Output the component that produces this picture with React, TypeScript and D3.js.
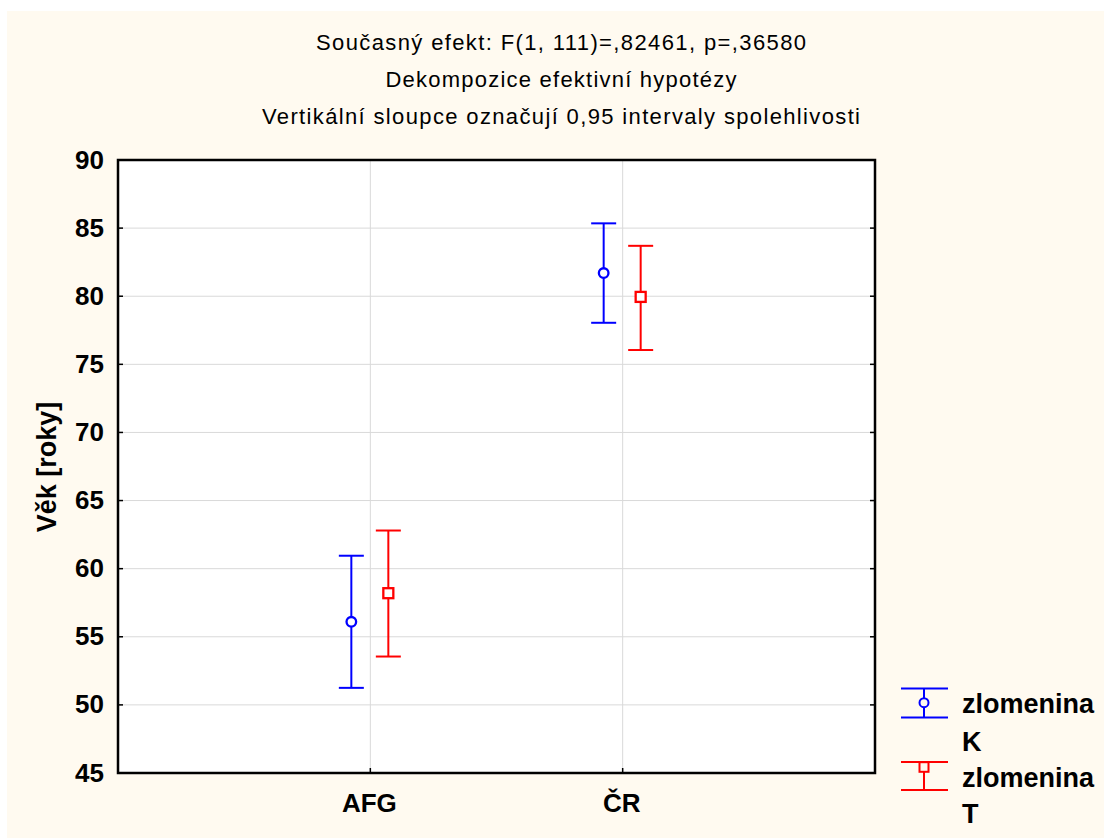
import React from "react";
import * as d3 from "d3";

const categories = ["AFG", "ČR"];
const seriesNames = ["zlomenina K", "zlomenina T"];
const meansK = [56.1, 81.7];
const lowerK = [51.25, 78.05];
const upperK = [60.95, 85.35];
const meansT = [58.2, 79.95];
const lowerT = [53.55, 76.05];
const upperT = [62.8, 83.7];
const yTicks = [45, 50, 55, 60, 65, 70, 75, 80, 85, 90];
const titleLines = [
  "Současný efekt: F(1, 111)=,82461, p=,36580",
  "Dekompozice efektivní hypotézy",
  "Vertikální sloupce označují 0,95 intervaly spolehlivosti",
];
const titleWidths = [490, 351, 598];
const yTitle = "Věk [roky]";

const W = 1104;
const H = 838;
const L = 118, T = 160, R = 875, B = 773;
const FONT = "'Liberation Sans', Arial, sans-serif";

export default function App() {
  const y = d3.scaleLinear().domain([45, 90]).range([B, T]);
  const x = d3.scalePoint<string>().domain(categories).range([L, R]).padding(1);
  const offsets = [-19, 18];
  const colors = ["#0000ff", "#ff0000"];
  const series = [
    { m: meansK, lo: lowerK, hi: upperK },
    { m: meansT, lo: lowerT, hi: upperT },
  ];
  const cap = 12.5;

  return (
    <svg width={W} height={H} style={{ position: "absolute", left: 0, top: 0 }} fontFamily={FONT}>
      <rect x={7} y={11} width={W - 7} height={H - 11} fill="#fffaf0" />
      <rect x={L} y={T} width={R - L} height={B - T} fill="#ffffff" />
      {/* grid */}
      {yTicks.slice(1, -1).map((t) => (
        <line key={"g" + t} x1={L} x2={R} y1={y(t)} y2={y(t)} stroke="#d9d9d9" strokeWidth={1} />
      ))}
      {categories.map((c) => (
        <line key={"gv" + c} x1={x(c)} x2={x(c)} y1={T} y2={B} stroke="#d9d9d9" strokeWidth={1} />
      ))}
      {/* ticks */}
      {yTicks.map((t) => (
        <g key={"t" + t}>
          <line x1={L} x2={L + 5} y1={y(t)} y2={y(t)} stroke="#000" strokeWidth={1.5} />
          <line x1={R - 5} x2={R} y1={y(t)} y2={y(t)} stroke="#000" strokeWidth={1.5} />
          <text x={104} y={y(t) + 8.5} textAnchor="end" fontSize={26} fontWeight="bold" fill="#000">
            {t}
          </text>
        </g>
      ))}
      {categories.map((c) => (
        <g key={"xt" + c}>
          <line x1={x(c)} x2={x(c)} y1={B - 5} y2={B} stroke="#000" strokeWidth={1.5} />
          <text x={(x(c) as number) - 1} y={812} textAnchor="middle" fontSize={26} fontWeight="bold" fill="#000">
            {c}
          </text>
        </g>
      ))}
      <rect x={L} y={T} width={R - L} height={B - T} fill="none" stroke="#000" strokeWidth={2.5} />
      {/* error bars */}
      {series.map((s, si) =>
        categories.map((c, ci) => {
          const cx = (x(c) as number) + offsets[si];
          const col = colors[si];
          return (
            <g key={si + "-" + ci} stroke={col} strokeWidth={2} fill="none">
              <line x1={cx} x2={cx} y1={y(s.hi[ci])} y2={y(s.lo[ci])} />
              <line x1={cx - cap} x2={cx + cap} y1={y(s.hi[ci])} y2={y(s.hi[ci])} />
              <line x1={cx - cap} x2={cx + cap} y1={y(s.lo[ci])} y2={y(s.lo[ci])} />
              {si === 0 ? (
                <circle cx={cx} cy={y(s.m[ci])} r={4.8} fill="#fff" strokeWidth={2.3} />
              ) : (
                <rect x={cx - 5} y={y(s.m[ci]) - 5} width={10} height={10} fill="#fff" strokeWidth={2.3} />
              )}
            </g>
          );
        })
      )}
      {/* title */}
      {titleLines.map((t, i) => (
        <text
          key={"ti" + i}
          x={561}
          y={50 + i * 37}
          textAnchor="middle"
          fontSize={22}
          fill="#000"
          textLength={titleWidths[i]}
          lengthAdjust="spacing"
        >
          {t}
        </text>
      ))}
      <text
        transform={`translate(56, 467) rotate(-90)`}
        textAnchor="middle"
        fontSize={27}
        fontWeight="bold"
        fill="#000"
      >
        {yTitle}
      </text>
      {/* legend */}
      {seriesNames.map((n, i) => {
        const top = i === 0 ? 688.5 : 762;
        const bot = i === 0 ? 717.5 : 790;
        const my = i === 0 ? 702.7 : 767;
        const cx = 924;
        const col = colors[i];
        const parts = n.split(" ");
        return (
          <g key={"lg" + i}>
            <g stroke={col} strokeWidth={2} fill="none">
              <line x1={901} x2={948} y1={top} y2={top} />
              <line x1={901} x2={948} y1={bot} y2={bot} />
              <line x1={cx} x2={cx} y1={top} y2={bot} />
              {i === 0 ? (
                <circle cx={cx} cy={my} r={4.5} fill="#fffaf0" />
              ) : (
                <rect x={cx - 4.5} y={my - 4.8} width={9} height={9.6} fill="#fffaf0" />
              )}
            </g>
            <text x={962} y={i === 0 ? 713 : 787} fontSize={27} fontWeight="bold" fill="#000">
              {parts[0]}
            </text>
            <text x={962} y={i === 0 ? 751 : 823} fontSize={27} fontWeight="bold" fill="#000">
              {parts[1]}
            </text>
          </g>
        );
      })}
    </svg>
  );
}
